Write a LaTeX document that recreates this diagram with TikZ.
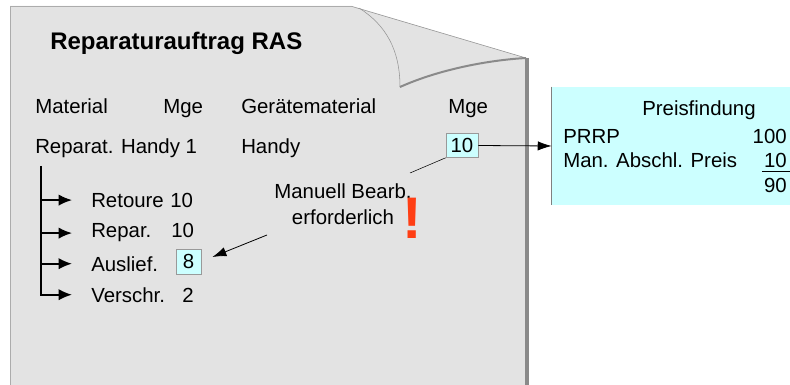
\documentclass[tikz,border=0pt]{standalone}
\usepackage{fontspec}
\setmainfont{Liberation Sans}
\usetikzlibrary{arrows.meta}

\definecolor{pagegray}{RGB}{227,227,227}
\definecolor{edgegray}{RGB}{138,138,138}
\definecolor{lightcyan}{RGB}{204,255,255}
\definecolor{alertred}{RGB}{255,62,20}

\tikzset{
  txt/.style={anchor=base west,inner sep=0pt,font=\fontsize{15.3}{18}\selectfont},
  num/.style={anchor=base east,inner sep=0pt,font=\fontsize{15.3}{18}\selectfont},
  title/.style={anchor=base west,inner sep=0pt,font=\bfseries\fontsize{18}{21}\selectfont},
  valbox/.style={rectangle,draw=gray!80,fill=lightcyan,inner sep=0pt,font=\fontsize{15.3}{18}\selectfont},
  flow/.style={->,>={Latex[length=10pt,width=8.5pt]},line width=1.3pt},
  hint/.style={->,>={Latex[length=10.5pt,width=7pt]},line width=0.6pt},
}

\begin{document}
\begin{tikzpicture}[x=0.75pt,y=-0.75pt]
\useasboundingbox (0,0) rectangle (790,385);

% page with curled corner
\fill[pagegray] (10,6) -- (352,6) -- (527,58) -- (527,386) -- (10,386) -- cycle;
\draw[gray!65,line width=1.2pt] (10.5,386) -- (10.5,6.5) -- (352,6.5);
\draw[gray!85,thin] (352,6.5) -- (526,58);
\draw[edgegray,line width=2.3pt] (527,58) -- (527,386);
\draw[gray!85,thin] (359,8) .. controls (386,25) and (400,50) .. (400,87);
\draw[edgegray,line width=1.5pt] (400,87) .. controls (440,69) and (490,60) .. (526,58);

\draw(50,50) node[title](head){Reparaturauftrag RAS};

\draw(35,114) node[txt](mat){Material};
\draw(163,114) node[txt](mge1){Mge};
\draw(241,114) node[txt](gmat){Gerätematerial};
\draw(448,114) node[txt](mge2){Mge};

\draw(35,153) node[txt](rep){Reparat. Handy 1};
\draw(241,153) node[txt](handy){Handy};
\draw(462,145.5) node[valbox,minimum width=24pt,minimum height=18pt](qty){10};

\draw(91,207) node[txt](ret){Retoure};
\draw(170,207) node[txt](retv){10};
\draw(91,238) node[txt](par){Repar.};
\draw(171,238) node[txt](parv){10};
\draw(91,271) node[txt](ausl){Auslief.};
\draw(188.5,261.5) node[valbox,minimum width=18.75pt,minimum height=18.75pt](auslv){8};
\draw(91,302) node[txt](ver){Verschr.};
\draw(182,302) node[txt](verv){2};

\draw(343,204) node[align=center,inner sep=0pt,font=\fontsize{15.3}{19.5}\selectfont](manual){Manuell Bearb.\\erforderlich};
\draw(412,218.5) node[inner sep=0pt,text=alertred,font=\bfseries\fontsize{44}{44}\selectfont](bang){!};

% price box
\draw(672,146) node[rectangle,fill=lightcyan,minimum width=180pt,minimum height=88.5pt,inner sep=0pt](preis){};
\draw[gray] (preis.north west) -- (preis.south west);
\draw(642,116) node[txt](pf){Preisfindung};
\draw(563,143) node[txt](prrp){PRRP};
\draw(787,143) node[num](prrpv){100};
\draw(563,167) node[txt](man){Man. Abschl. Preis};
\draw(787,167) node[num](manv){10};
\draw(787,192) node[num](net){90};
\draw[thin] ([xshift=-1.5pt,yshift=-3pt]manv.base west) -- ([xshift=2.5pt,yshift=-3pt]manv.base east);

\coordinate(trunk) at (41,166);
\coordinate(hintA) at (410,173);
\coordinate(hintB) at (267,235);

\draw[flow] (trunk) |- ([xshift=-14.25pt]ver.west);
\draw[flow] (trunk |- ret.west) -- ([xshift=-14.25pt]ret.west);
\draw[flow] (trunk |- par.west) -- ([xshift=-14.25pt]par.west);
\draw[flow] (trunk |- ausl.west) -- ([xshift=-14.25pt]ausl.west);
\draw[hint] (qty.east) -- (preis.west);
\draw[thin] (hintA) -- (qty.south west);
\draw[hint,shorten >=9pt] (hintB) -- (auslv.east);

\end{tikzpicture}
\end{document}
